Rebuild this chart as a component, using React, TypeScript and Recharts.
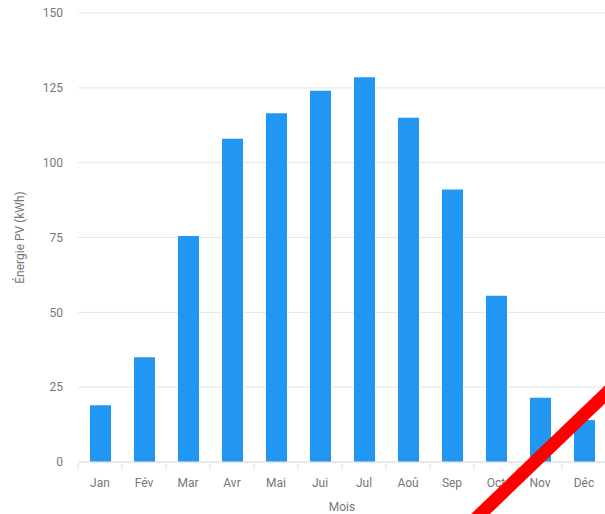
import { Bar, BarChart, CartesianGrid, XAxis, YAxis } from "recharts";

const mois = ["Jan", "Fév", "Mar", "Avr", "Mai", "Jui", "Jul", "Aoû", "Sep", "Oct", "Nov", "Déc"];
const energiePV = [19, 35, 75.5, 108, 116.5, 124, 128.5, 115, 91, 55.5, 21.5, 14];
const yTicks = [0, 25, 50, 75, 100, 125, 150];

const data = mois.map((m, i) => ({ mois: m, energie: energiePV[i] }));

const CHART_W = 620;
const CHART_H = 514;
const Y_AXIS_W = 78;
const MARGIN_RIGHT = 14;
const halfBand = (CHART_W - Y_AXIS_W - MARGIN_RIGHT) / mois.length / 2;

const textColor = "#777";
const font = "Roboto, 'Noto Sans', sans-serif";

function MoisTick(props: any) {
  const { x, y, payload, index } = props;
  const last = index === mois.length - 1;
  return (
    <g>
      <line x1={x - halfBand} y1={y} x2={x - halfBand} y2={y + 8} stroke="#dde3ea" />
      {last && <line x1={x + halfBand} y1={y} x2={x + halfBand} y2={y + 8} stroke="#dde3ea" />}
      <text x={x} y={y + 25} textAnchor="middle" fill={textColor} fontSize={12} fontFamily={font}>
        {payload.value}
      </text>
    </g>
  );
}

export default function App() {
  return (
    <div
      style={{
        position: "absolute",
        left: 0,
        top: 0,
        width: 605,
        height: 514,
        overflow: "hidden",
        background: "#fff",
      }}
    >
      <BarChart
        width={CHART_W}
        height={CHART_H}
        data={data}
        margin={{ top: 13, right: MARGIN_RIGHT, left: 0, bottom: 0 }}
      >
        <CartesianGrid vertical={false} stroke="#e6e6e6" />
        <XAxis
          dataKey="mois"
          height={52}
          interval={0}
          tickLine={false}
          tickSize={0}
          tickMargin={0}
          stroke="#dde3ea"
          tick={<MoisTick />}
          label={{
            value: "Mois",
            position: "insideBottom",
            offset: 3,
            fill: textColor,
            fontSize: 12,
            fontFamily: font,
          }}
        />
        <YAxis
          width={Y_AXIS_W}
          domain={[0, 150]}
          ticks={yTicks}
          axisLine={false}
          tickLine={false}
          tickSize={0}
          tickMargin={15}
          tick={{ fill: textColor, fontSize: 12, fontFamily: font }}
          label={{
            value: "Énergie PV (kWh)",
            angle: -90,
            position: "center",
            dx: -19,
            fill: textColor,
            fontSize: 12,
            fontFamily: font,
          }}
        />
        <Bar dataKey="energie" fill="#2196f3" barSize={21} isAnimationActive={false} />
      </BarChart>
      <svg
        width={605}
        height={514}
        style={{ position: "absolute", left: 0, top: 0, pointerEvents: "none" }}
      >
        <line x1={468} y1={526} x2={618} y2={382} stroke="#ff0000" strokeWidth={13} />
      </svg>
    </div>
  );
}
